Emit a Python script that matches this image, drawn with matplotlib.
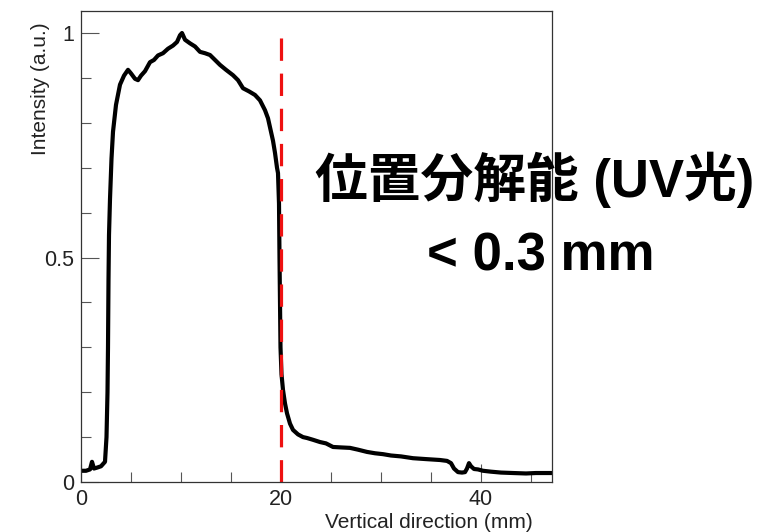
import matplotlib
matplotlib.use("Agg")
import matplotlib.pyplot as plt
from matplotlib.ticker import MultipleLocator

# profile
x_mm = [0, 0.5, 0.9, 1.1, 1.3, 1.6, 2.0, 2.4, 2.55, 2.65, 2.7, 2.75, 2.8, 2.9, 3.05,
        3.2, 3.5, 3.9, 4.3, 4.7, 5.0, 5.4, 5.7, 6.0, 6.4, 6.9, 7.3, 7.7, 8.2, 8.7,
        9.2, 9.6, 9.9, 10.1, 10.4, 10.9, 11.4, 11.9, 12.4, 12.9, 13.4, 13.9, 14.5,
        15.2, 15.7, 16.2, 16.8, 17.4, 17.9, 18.4, 18.7, 18.9, 19.2, 19.4, 19.6,
        19.7, 19.8, 19.85, 19.9, 19.95, 20.05, 20.2, 20.4, 20.6, 20.9, 21.2, 21.7,
        22.2, 22.6, 23.2, 23.9, 24.5, 25.2, 26.0, 26.9, 27.7, 28.6, 29.4, 30.2,
        31.0, 32.0, 33.2, 34.5, 35.9, 36.6, 37.0, 37.3, 37.7, 38.1, 38.4, 38.6,
        38.8, 39.0, 39.3, 39.7, 40.2, 41.0, 42.0, 43.2, 44.5, 45.5, 47.0]
intensity = [0.025, 0.025, 0.028, 0.045, 0.03, 0.032, 0.035, 0.045, 0.1, 0.2, 0.3,
             0.45, 0.55, 0.63, 0.72, 0.78, 0.84, 0.885, 0.905, 0.918, 0.91, 0.898,
             0.895, 0.905, 0.915, 0.935, 0.94, 0.95, 0.955, 0.965, 0.972, 0.98,
             0.995, 1.0, 0.985, 0.977, 0.97, 0.958, 0.955, 0.951, 0.94, 0.929,
             0.918, 0.906, 0.895, 0.877, 0.87, 0.862, 0.85, 0.828, 0.81, 0.79,
             0.76, 0.733, 0.70, 0.688, 0.62, 0.5, 0.4, 0.3, 0.24, 0.205, 0.175,
             0.153, 0.13, 0.116, 0.106, 0.10, 0.098, 0.094, 0.089, 0.086, 0.078,
             0.077, 0.076, 0.072, 0.067, 0.064, 0.062, 0.059, 0.057, 0.053, 0.051,
             0.049, 0.047, 0.042, 0.03, 0.022, 0.021, 0.022, 0.03, 0.042, 0.035,
             0.029, 0.028, 0.025, 0.023, 0.021, 0.02, 0.019, 0.02, 0.02]
edge_x = 19.95
x_ticks = [0, 20, 40]
y_ticks = [0, 0.5, 1]
y_tick_labels = ["0", "0.5", "1"]

plt.rcParams['font.family'] = ['Liberation Sans', 'Noto Sans CJK JP']

fig = plt.figure(figsize=(7.84, 5.32), dpi=100)
ax = fig.add_axes([81/784, 50/532, 471/784, 471/532])

ax.plot(x_mm, intensity, color='black', lw=3)
ax.plot([edge_x, edge_x], [0, 1], color='#ee1111', lw=2.3, dashes=(7, 4))

ax.set_xlim(0, 47.1)
ax.set_ylim(0, 1.049)
ax.set_xticks(x_ticks)
ax.set_yticks(y_ticks)
ax.set_yticklabels(y_tick_labels)
ax.xaxis.set_minor_locator(MultipleLocator(5))
ax.yaxis.set_minor_locator(MultipleLocator(0.1))
ax.tick_params(which='both', direction='in', top=False, right=False,
               labelsize=15.5, labelcolor='#222222', color='#555555')
ax.tick_params(which='major', length=13, width=0.8, pad=5)
ax.tick_params(which='minor', length=7, width=0.8)
for s in ax.spines.values():
    s.set_linewidth(0.9)
    s.set_color('#333333')

fig.text(40/784, 1 - 22/532, "Intensity (a.u.)", rotation=90, ha='center', va='top',
         fontsize=15, color='#222222')
fig.text(533/784, 1 - 522/532, "Vertical direction (mm)", ha='right', va='center',
         fontsize=15, color='#222222')

fig.text(535/784, 1 - 180/532, "位置分解能 (UV光)", ha='center', va='center',
         fontsize=38, fontweight='bold', color='black')
fig.text(541/784, 1 - 257/532, "< 0.3 mm", ha='center', va='center',
         fontsize=38, fontweight='bold', color='black')

fig.savefig("out.png", dpi=100)
